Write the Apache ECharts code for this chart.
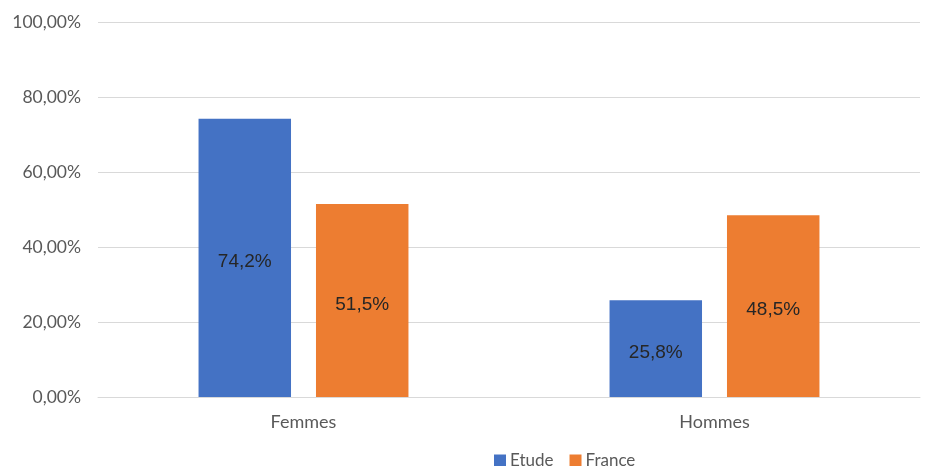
<!DOCTYPE html>
<html>
<head>
<meta charset="utf-8">
<script src="https://cdn.jsdelivr.net/npm/echarts@6/dist/echarts.min.js"></script>
<style>
  html, body { margin: 0; padding: 0; background: #fff; }
  #chart { width: 932px; height: 466px; }
</style>
</head>
<body>
<div id="chart"></div>
<script>
// Répartition par sexe : population de l'étude vs France
const categories = ['Femmes', 'Hommes'];
const etude = [74.2, 25.8];
const france = [51.5, 48.5];
const seriesNames = ['Etude', 'France'];

const axisFont = 'Lato, "Open Sans", "Liberation Sans", sans-serif';
const labelFont = '"Liberation Sans", Arial, sans-serif';

function pct(v, digits) {
  return v.toFixed(digits).replace('.', ',') + '%';
}

const chart = echarts.init(document.getElementById('chart'), null, { renderer: 'canvas' });

const barLabel = {
  show: true,
  position: 'inside',
  offset: [0, 4],
  color: '#262626',
  fontFamily: labelFont,
  fontSize: 19,
  formatter: p => pct(p.value, 1)
};

chart.setOption({
  animation: false,
  backgroundColor: '#ffffff',
  grid: { left: 98, right: 12, top: 22, bottom: 69, containLabel: false },
  legend: {
    data: seriesNames,
    left: 489,
    top: 447,
    itemWidth: 12,
    itemHeight: 12,
    itemGap: 16,
    icon: 'rect',
    textStyle: { color: '#595959', fontFamily: axisFont, fontSize: 17, padding: [0, 0, 0, -1] }
  },
  xAxis: {
    type: 'category',
    data: categories,
    axisLine: { show: true, lineStyle: { color: '#d9d9d9', width: 1 } },
    axisTick: { show: false },
    axisLabel: { color: '#595959', fontFamily: axisFont, fontSize: 18, margin: 16 }
  },
  yAxis: {
    type: 'value',
    min: 0,
    max: 100,
    interval: 20,
    axisLine: { show: false },
    axisTick: { show: false },
    splitLine: { lineStyle: { color: '#d9d9d9', width: 1 } },
    axisLabel: {
      color: '#595959',
      fontFamily: axisFont,
      fontSize: 17.5,
      margin: 17,
      formatter: v => pct(v, 2)
    }
  },
  series: [
    {
      name: seriesNames[0],
      type: 'bar',
      data: etude,
      barWidth: '22.5%',
      barGap: '27%',
      itemStyle: { color: '#4472c4' },
      label: barLabel
    },
    {
      name: seriesNames[1],
      type: 'bar',
      data: france,
      barWidth: '22.5%',
      barGap: '27%',
      itemStyle: { color: '#ed7d31' },
      label: barLabel
    }
  ]
});
</script>
</body>
</html>
